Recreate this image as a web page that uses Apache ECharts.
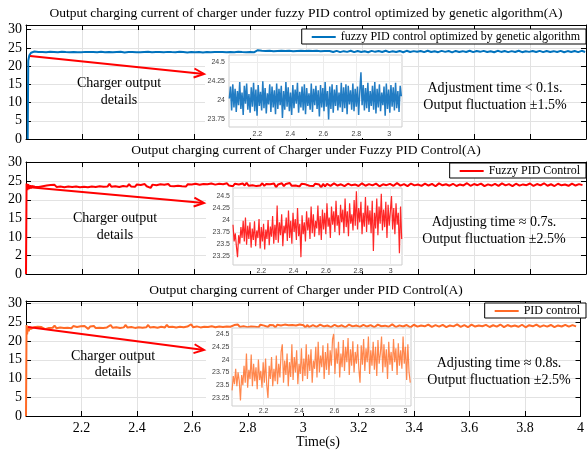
<!DOCTYPE html>
<html>
<head>
<meta charset="utf-8">
<script src="https://cdn.jsdelivr.net/npm/echarts@6/dist/echarts.min.js"></script>
<style>
  html, body { margin: 0; padding: 0; background: #fff; }
  #chart { width: 587px; height: 452px; }
</style>
</head>
<body>
<div id="chart"></div>
<script>
// ---- labels and ticks ----
const seriesNames = [
  'fuzzy PID control optimized by genetic algorithm',
  'Fuzzy PID Control',
  'PID control'
];
const panelTitles = [
  'Output charging current of charger under fuzzy PID control optimized by genetic algorithm(A)',
  'Output charging current of Charger under Fuzzy PID Control(A)',
  'Output charging current of Charger under PID Control(A)'
];
const detailNotes = [
  ['Adjustment time < 0.1s.', 'Output fluctuation \u00b11.5%'],
  ['Adjusting time \u2248 0.7s.', 'Output fluctuation \u00b12.5%'],
  ['Adjusting time \u2248 0.8s.', 'Output fluctuation \u00b12.5%']
];
const arrowCaption = ['Charger output', 'details'];
const xTicks = [2.2, 2.4, 2.6, 2.8, 3, 3.2, 3.4, 3.6, 3.8, 4];
const yTicks = [0, 5, 10, 15, 20, 25, 30];
const yTickLabelsFuzzy = ['0', '2', '10', '15', '20', '25', '30'];
const insetXTicks = [2.2, 2.4, 2.6, 2.8, 3];
const gaInsetYTicks = [23.75, 24, 24.25, 24.5];
const pidInsetYTicks = [23.25, 23.5, 23.75, 24, 24.25, 24.5];
const xAxisTitle = 'Time(s)';

// ---- GA-optimised fuzzy PID: current (A) ----
const gaStartup = [[2.006, 0], [2.008, 21.5], [2.012, 23.0], [2.018, 23.7], [2.024, 23.95]];
const gaDetailStart = 2.03, gaDetailStep = 0.007;
const gaDetail = [
  24.02, 24.18, 23.86, 24.21, 23.90, 24.15, 23.84, 24.12, 23.93, 24.24,
  23.88, 24.10, 23.80, 24.19, 23.95, 24.22, 23.87, 24.08, 23.83, 24.17,
  23.91, 24.23, 23.85, 24.14, 23.79, 24.20, 23.92, 24.11, 23.86, 24.25,
  23.89, 24.16, 23.82, 24.09, 23.94, 24.21, 23.84, 24.18, 23.90, 24.13,
  23.81, 24.22, 23.88, 24.15, 23.93, 24.19, 23.76, 24.12, 23.87, 24.24,
  23.91, 24.17, 23.85, 24.10, 23.80, 24.20, 23.89, 24.14, 23.95, 24.23,
  23.83, 24.11, 23.90, 24.18, 23.86, 24.21, 23.81, 24.16, 23.92, 24.09,
  23.87, 24.22, 23.84, 24.15, 23.93, 24.19, 23.88, 24.13, 23.78, 24.20,
  23.90, 24.16, 23.85, 24.24, 23.91, 24.12, 23.74, 24.18, 23.88, 24.21,
  23.83, 24.14, 23.92, 24.20, 23.86, 24.10, 23.90, 24.23, 23.84, 24.17,
  23.89, 24.21, 23.81, 24.19, 23.94, 24.13, 23.87, 24.22, 23.85, 24.15,
  23.91, 24.18, 23.80, 24.11, 24.37, 23.93, 24.20, 23.86, 24.16, 23.89,
  24.23, 23.84, 24.12, 23.92, 24.19, 23.87, 24.24, 23.82, 24.15, 23.90,
  24.21, 23.85, 24.10, 23.93, 24.18, 23.79, 24.22, 23.88, 24.14, 23.83,
  24.20, 23.91, 24.17, 23.86, 24.23, 23.89, 24.12, 23.84, 24.19, 24.05
];
const gaTailStart = 3.0845, gaTailStep = 0.0125;
const gaTail = [
  24.15, 23.88, 24.20, 23.86, 24.12, 23.92, 24.22, 23.84, 24.17, 23.90,
  24.10, 23.83, 24.19, 23.93, 24.14, 23.87, 24.23, 23.85, 24.11, 23.91,
  24.18, 23.82, 24.21, 23.89, 24.13, 23.94, 24.16, 23.86, 24.24, 23.88,
  24.09, 23.84, 24.20, 23.92, 24.15, 23.80, 24.18, 23.90, 24.12, 23.87,
  24.22, 23.85, 24.14, 23.93, 24.19, 23.88, 24.11, 23.83, 24.21, 23.91,
  24.16, 23.86, 24.13, 23.89, 24.23, 23.84, 24.10, 23.92, 24.18, 23.87,
  24.20, 23.85, 24.15, 23.90, 24.12, 23.88, 24.19, 23.83, 24.14, 23.91,
  24.17, 23.86, 24.21, 23.89
];

// ---- fuzzy PID: current (A) ----
const fuzzyStartup = [[2.000, 0], [2.002, 24.4], [2.005, 22.6], [2.008, 24.2], [2.011, 22.9],
  [2.014, 23.9], [2.017, 23.1], [2.020, 23.7], [2.023, 23.4]];
const fuzzyDetailStart = 2.025, fuzzyDetailStep = 0.007;
const fuzzyDetail = [
  23.90, 23.55, 23.72, 23.45, 23.22, 23.68, 23.50, 23.85, 23.62, 23.98,
  23.55, 24.05, 23.48, 23.88, 23.60, 23.95, 23.42, 23.82, 23.58, 23.97,
  23.45, 23.78, 23.62, 24.02, 23.40, 23.85, 23.55, 23.92, 23.38, 23.80,
  23.60, 24.00, 23.47, 23.86, 23.65, 24.08, 23.50, 23.90, 23.58, 24.30,
  23.52, 23.95, 23.68, 24.12, 23.45, 23.88, 23.72, 24.05, 23.56, 24.20,
  23.62, 23.98, 23.50, 24.15, 23.75, 24.02, 23.58, 24.25, 23.66, 23.92,
  23.22, 24.10, 23.70, 23.95, 23.55, 24.18, 23.78, 24.05, 23.60, 24.28,
  23.72, 24.12, 23.65, 23.98, 23.82, 24.30, 23.68, 24.08, 23.58, 24.22,
  23.80, 24.15, 23.70, 24.35, 23.86, 24.05, 23.62, 24.28, 23.90, 24.18,
  23.75, 24.40, 23.88, 24.10, 23.68, 24.32, 23.95, 24.22, 23.72, 24.45,
  23.85, 24.18, 23.66, 24.35, 23.92, 24.12, 23.78, 24.42, 23.88, 24.60,
  23.80, 24.25, 23.95, 24.38, 23.70, 24.15, 23.86, 24.48, 23.75, 24.30,
  23.90, 24.20, 23.72, 24.40, 23.35, 24.15, 23.82, 24.45, 23.68, 24.28,
  23.92, 24.55, 23.78, 24.22, 23.85, 24.38, 23.62, 24.32, 23.88, 24.18,
  24.50, 23.80, 24.25, 23.70, 24.35, 23.90, 24.15, 23.30, 24.28, 23.60
];
const fuzzyTailStart = 3.075, fuzzyTailStep = 0.0125;
const fuzzyTail = [
  24.30, 23.75, 24.42, 23.85, 24.20, 23.68, 24.35, 23.92, 24.15, 23.72,
  24.45, 23.80, 24.25, 23.88, 24.38, 23.65, 24.18, 23.95, 24.32, 23.78,
  24.50, 23.82, 24.22, 23.70, 24.40, 23.90, 24.12, 23.75, 24.36, 23.86,
  24.28, 23.66, 24.44, 23.92, 24.20, 23.80, 24.33, 23.72, 24.15, 23.88,
  24.48, 23.78, 24.25, 23.94, 24.38, 23.70, 24.18, 23.85, 24.30, 23.76,
  24.42, 23.90, 24.22, 23.68, 24.35, 23.83, 24.16, 23.95, 24.40, 23.74,
  24.26, 23.88, 24.46, 23.80, 24.20, 23.72, 24.34, 23.92, 24.14, 23.78,
  24.38, 23.86, 24.24, 23.96
];

// ---- conventional PID: current (A) ----
const pidStartup = [[2.000, 0], [2.002, 24.3], [2.004, 21.8], [2.007, 23.9], [2.010, 22.6],
  [2.013, 23.8], [2.016, 23.2], [2.019, 23.7]];
const pidDetailStart = 2.022, pidDetailStep = 0.00675;
const pidDetail = [
  23.40, 23.68, 23.52, 23.82, 23.48, 23.75, 23.58, 23.20, 23.70, 23.50,
  23.88, 23.55, 24.12, 23.45, 23.80, 23.62, 24.10, 23.48, 23.92, 23.58,
  23.85, 23.42, 24.00, 23.60, 23.78, 23.45, 23.95, 23.55, 24.02, 23.50,
  23.25, 23.88, 23.62, 24.05, 23.48, 23.82, 23.58, 24.08, 23.52, 23.92,
  23.65, 24.15, 24.30, 23.55, 23.98, 23.70, 24.12, 23.48, 23.95, 23.66,
  24.30, 23.60, 24.05, 23.75, 24.18, 23.52, 23.92, 23.72, 24.22, 23.58,
  24.02, 23.68, 24.30, 23.62, 24.10, 23.78, 24.20, 23.55, 23.98, 23.82,
  24.25, 23.65, 24.35, 23.75, 24.08, 23.85, 24.28, 23.62, 24.15, 23.80,
  24.32, 23.70, 24.18, 23.88, 24.40, 24.50, 23.72, 24.22, 23.92, 24.35,
  23.65, 24.12, 23.85, 24.38, 23.78, 24.25, 23.95, 24.42, 23.70, 24.20,
  23.88, 24.36, 23.75, 24.15, 23.92, 24.30, 23.82, 23.55, 24.28, 23.90,
  24.40, 23.78, 24.22, 23.95, 24.45, 23.72, 24.18, 23.88, 24.35, 23.80,
  24.25, 23.68, 24.38, 23.92, 24.12, 24.45, 23.75, 24.30, 23.85, 24.20,
  23.62, 24.35, 23.90, 24.15, 23.78, 24.40, 23.95, 24.22, 23.70, 24.32,
  23.88, 24.18, 23.82, 24.45, 23.92, 24.25, 23.60, 24.30, 23.75, 23.55
];
const pidTailStart = 3.035, pidTailStep = 0.013;
const pidTail = [
  24.28, 23.80, 24.40, 23.90, 24.15, 23.72, 24.35, 23.85, 24.22, 23.68,
  24.42, 23.92, 24.18, 23.78, 24.32, 23.88, 24.25, 23.70, 24.38, 23.95,
  24.12, 23.82, 24.45, 23.75, 24.20, 23.90, 24.30, 23.66, 24.36, 23.86,
  24.16, 23.94, 24.40, 23.78, 24.24, 23.84, 24.34, 23.72, 24.18, 23.92,
  24.44, 23.80, 24.26, 23.70, 24.38, 23.88, 24.14, 23.96, 24.32, 23.76,
  24.22, 23.86, 24.42, 23.74, 24.28, 23.90, 24.16, 23.82, 24.36, 23.68,
  24.24, 23.94, 24.40, 23.80, 24.20, 23.86, 24.30, 23.72, 24.18, 23.90,
  24.34, 23.84, 24.26, 23.92
];

// ---- helpers ----
const SERIF = '"Liberation Serif", "Times New Roman", serif';
const SANS = '"Liberation Sans", Arial, sans-serif';

function sampled(start, step, values) {
  return values.map((v, i) => [start + i * step, v]);
}

const colors = ['#0072BD', '#FF0000', '#FF6A26'];
const detailColors = ['#0A6EBD', '#FF1010', '#FF7A3A'];
const detailWidths = [1.5, 1.2, 1.2];

const panels = [
  {
    main: gaStartup.concat(sampled(gaDetailStart, gaDetailStep, gaDetail), sampled(gaTailStart, gaTailStep, gaTail)),
    detail: sampled(gaDetailStart, gaDetailStep, gaDetail),
    grid: { top: 25, height: 114 }, yMax: 31.3,
    inset: { left: 229, top: 55, width: 173, height: 72, xMin: 2.028, xMax: 3.077, yMin: 23.64, yMax: 24.6, yTicks: gaInsetYTicks, xMargin: 2, yMargin: 4 },
    cover: { x: 205, y: 52, width: 198, height: 86 },
    legendTop: 29,
    titleY: 13,
    captionX: 119, captionY: [83, 100],
    noteX: 495, noteY: [88, 105],
    arrow: [30, 56, 204, 74]
  },
  {
    main: fuzzyStartup.concat(sampled(fuzzyDetailStart, fuzzyDetailStep, fuzzyDetail), sampled(fuzzyTailStart, fuzzyTailStep, fuzzyTail)),
    detail: sampled(fuzzyDetailStart, fuzzyDetailStep, fuzzyDetail),
    grid: { top: 162, height: 112 }, yMax: 30.2,
    inset: { left: 233, top: 188, width: 169, height: 77, xMin: 2.025, xMax: 3.07, yMin: 23.055, yMax: 24.67, yTicks: pidInsetYTicks, xMargin: 1, yMargin: 3 },
    cover: { x: 206, y: 187, width: 198, height: 84 },
    legendTop: 163,
    titleY: 150,
    captionX: 115, captionY: [218, 235],
    noteX: 494, noteY: [222, 239],
    arrow: [27, 187, 204, 203]
  },
  {
    main: pidStartup.concat(sampled(pidDetailStart, pidDetailStep, pidDetail), sampled(pidTailStart, pidTailStep, pidTail)),
    detail: sampled(pidDetailStart, pidDetailStep, pidDetail),
    grid: { top: 301, height: 115 }, yMax: 30.7,
    inset: { left: 232, top: 328, width: 179, height: 78, xMin: 2.0215, xMax: 3.032, yMin: 23.094, yMax: 24.617, yTicks: pidInsetYTicks, xMargin: 0, yMargin: 2.5 },
    cover: { x: 206, y: 326, width: 207, height: 87 },
    legendTop: 303,
    titleY: 290,
    captionX: 113, captionY: [356, 372],
    noteX: 499, noteY: [363, 380],
    arrow: [28, 327, 204, 350]
  }
];

const grids = [], xAxes = [], yAxes = [], series = [], legends = [], graphics = [];

function textEl(text, x, y, font, z) {
  return {
    type: 'text', x: x, y: y, z: z || 20, silent: true,
    style: { text: text, font: font, fill: '#000', align: 'center', verticalAlign: 'middle' }
  };
}

panels.forEach((p, i) => {
  // main plot area
  const gi = grids.length;
  grids.push({ left: 26, right: 1, top: p.grid.top, height: p.grid.height, z: 0, show: false });
  const isLast = i === panels.length - 1;
  const xi = xAxes.length;
  xAxes.push({
    type: 'value', gridIndex: gi, min: 2, max: 4, position: 'bottom', z: 0,
    axisLine: { show: true, onZero: false, lineStyle: { color: '#000', width: 1 } },
    axisTick: { show: true, inside: true, length: 5, customValues: xTicks, lineStyle: { color: '#000' } },
    axisLabel: { show: isLast, customValues: xTicks, margin: 5, color: '#000', fontFamily: SERIF, fontSize: 14,
      formatter: v => String(+v.toFixed(1)) },
    splitLine: { show: true, lineStyle: { color: '#e2e2e2', width: 1 } }
  });
  xAxes.push({
    type: 'value', gridIndex: gi, min: 2, max: 4, position: 'top', z: 0,
    axisLine: { show: true, onZero: false, lineStyle: { color: '#000', width: 1 } },
    axisTick: { show: true, inside: true, length: 5, customValues: xTicks, lineStyle: { color: '#000' } },
    axisLabel: { show: false }, splitLine: { show: false }
  });
  const yi = yAxes.length;
  yAxes.push({
    type: 'value', gridIndex: gi, min: 0, max: p.yMax, position: 'left', z: 0,
    axisLine: { show: true, onZero: false, lineStyle: { color: '#000', width: 1 } },
    axisTick: { show: true, inside: true, length: 5, customValues: yTicks, lineStyle: { color: '#000' } },
    axisLabel: { show: true, customValues: yTicks, margin: 4, color: '#000', fontFamily: SERIF, fontSize: 14,
      formatter: v => (i === 1 ? yTickLabelsFuzzy[yTicks.indexOf(v)] : String(v)) },
    splitLine: { show: true, lineStyle: { color: '#e2e2e2', width: 1 } }
  });
  yAxes.push({
    type: 'value', gridIndex: gi, min: 0, max: p.yMax, position: 'right', z: 0,
    axisLine: { show: true, onZero: false, lineStyle: { color: '#000', width: 1 } },
    axisTick: { show: true, inside: true, length: 5, customValues: yTicks, lineStyle: { color: '#000' } },
    axisLabel: { show: false }, splitLine: { show: false }
  });
  series.push({
    name: seriesNames[i], type: 'line', xAxisIndex: xi, yAxisIndex: yi, data: p.main,
    showSymbol: false, symbol: 'none', z: 2, clip: true,
    lineStyle: { color: colors[i], width: 2 }, itemStyle: { color: colors[i] }
  });

  // zoomed detail plot
  const ins = p.inset;
  const igi = grids.length;
  grids.push({ left: ins.left, top: ins.top, width: ins.width, height: ins.height, z: 3, show: true,
    backgroundColor: '#fff', borderColor: '#cdcdcd', borderWidth: 1 });
  const ixi = xAxes.length;
  xAxes.push({
    type: 'value', gridIndex: igi, min: ins.xMin, max: ins.xMax, z: 3,
    axisLine: { show: false }, axisTick: { show: false, customValues: insetXTicks },
    axisLabel: { show: true, customValues: insetXTicks, margin: ins.xMargin + 2, color: '#444', fontFamily: SANS, fontSize: 7,
      formatter: v => String(+v.toFixed(1)) },
    splitLine: { show: true, lineStyle: { color: '#ececec', width: 1 } }
  });
  const iyi = yAxes.length;
  yAxes.push({
    type: 'value', gridIndex: igi, min: ins.yMin, max: ins.yMax, z: 3,
    axisLine: { show: false }, axisTick: { show: false, customValues: ins.yTicks },
    axisLabel: { show: true, customValues: ins.yTicks, margin: ins.yMargin, color: '#444', fontFamily: SANS, fontSize: 7,
      formatter: v => String(v) },
    splitLine: { show: true, lineStyle: { color: '#ececec', width: 1 } }
  });
  series.push({
    name: seriesNames[i] + ' (detail)', type: 'line', xAxisIndex: ixi, yAxisIndex: iyi, data: p.detail,
    showSymbol: false, symbol: 'none', z: 4, clip: true,
    lineStyle: { color: detailColors[i], width: detailWidths[i], opacity: 0.9 }
  });

  legends.push({
    data: [seriesNames[i]], right: 1, top: p.legendTop, orient: 'horizontal', z: 30,
    icon: 'rect', itemWidth: 24, itemHeight: 2, selectedMode: false,
    backgroundColor: '#fff', borderColor: '#000', borderWidth: 1, borderRadius: 0,
    padding: [1, 6, 0, 10],
    textStyle: { fontFamily: SERIF, fontSize: 12, color: '#000', lineHeight: 14 }
  });

  // white backing behind the detail plot and its labels
  graphics.push({ type: 'rect', z: 1, silent: true, shape: p.cover, style: { fill: '#fff' } });

  // panel title and annotations
  graphics.push(textEl(panelTitles[i], 306, p.titleY, '13.5px ' + SERIF));
  graphics.push(textEl(arrowCaption[0], p.captionX, p.captionY[0], '14px ' + SERIF));
  graphics.push(textEl(arrowCaption[1], p.captionX, p.captionY[1], '14px ' + SERIF));
  graphics.push(textEl(detailNotes[i][0], p.noteX, p.noteY[0], '14px ' + SERIF));
  graphics.push(textEl(detailNotes[i][1], p.noteX, p.noteY[1], '14px ' + SERIF));

  // pointer arrow from the start-up region to the detail plot
  const [x1, y1, x2, y2] = p.arrow;
  const ang = Math.atan2(y2 - y1, x2 - x1);
  const head = 11, spread = 0.42;
  graphics.push({ type: 'line', z: 25, silent: true, shape: { x1, y1, x2, y2 },
    style: { stroke: '#ff0000', lineWidth: 2 } });
  graphics.push({ type: 'polyline', z: 25, silent: true,
    shape: { points: [
      [x2 - head * Math.cos(ang - spread), y2 - head * Math.sin(ang - spread)],
      [x2, y2],
      [x2 - head * Math.cos(ang + spread), y2 - head * Math.sin(ang + spread)]
    ] },
    style: { stroke: '#ff0000', lineWidth: 2, fill: null } });
});

graphics.push(textEl(xAxisTitle, 318, 442, '14px ' + SERIF));

const chart = echarts.init(document.getElementById('chart'), null, { renderer: 'canvas' });
chart.setOption({
  animation: false,
  backgroundColor: '#fff',
  grid: grids,
  xAxis: xAxes,
  yAxis: yAxes,
  legend: legends,
  series: series,
  graphic: { elements: graphics }
});
</script>
</body>
</html>
